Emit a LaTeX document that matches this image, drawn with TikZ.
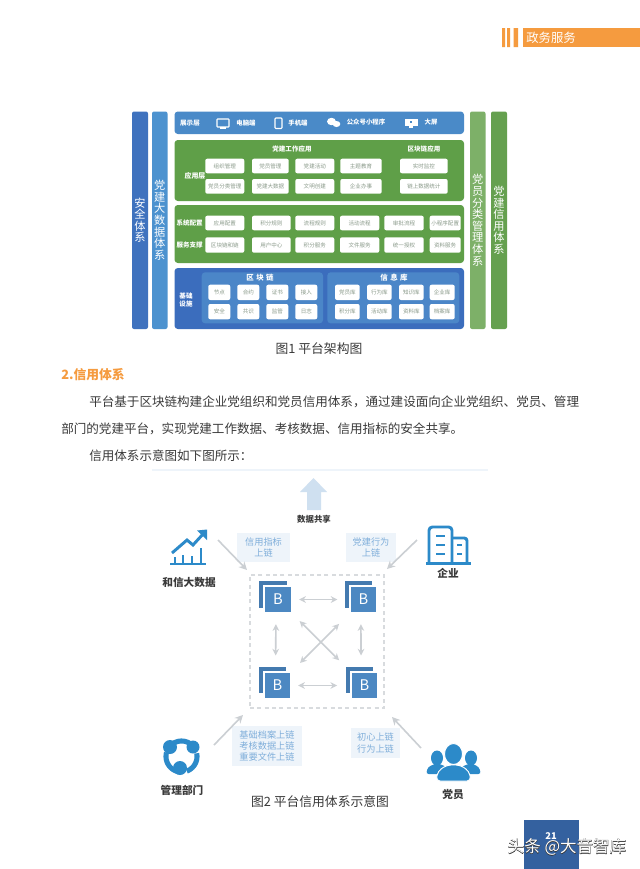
\documentclass[tikz,border=0pt]{standalone}
\usepackage{fontspec}
\setmainfont{Noto Sans CJK SC}
\newfontfamily\halofont[FakeBold=2.5]{Noto Sans CJK SC}
\usetikzlibrary{arrows.meta,calc}
\definecolor{topblue}{HTML}{4A8AC8}
\definecolor{safeblue}{HTML}{3F72BE}
\definecolor{datablue}{HTML}{4C92CF}
\definecolor{appgreen}{HTML}{5F9F48}
\definecolor{basedark}{HTML}{3B6DBD}
\definecolor{baseinner}{HTML}{4B86C8}
\definecolor{lightgreen}{HTML}{7DB068}
\definecolor{darkgreen}{HTML}{65A04F}
\definecolor{boxtext}{HTML}{8A9A8A}
\definecolor{iconblue}{HTML}{2C8AC9}
\definecolor{blockblue}{HTML}{4C88C2}
\definecolor{panelfill}{HTML}{EEF4FA}
\definecolor{paneltext}{HTML}{7FAEDA}
\definecolor{arrowgray}{HTML}{CBCFD3}
\definecolor{dashgray}{HTML}{D8DBDE}
\definecolor{bigarrow}{HTML}{CFE0F0}
\definecolor{headorange}{HTML}{F59B3F}
\definecolor{pageblue}{HTML}{34619F}
\definecolor{bodytext}{HTML}{3A3A3A}
\tikzset{
 bar/.style={rounded corners=1.5pt,inner sep=0pt,text=white,align=center,font=\fontsize{8.4}{8.7}\selectfont},
 band/.style={rounded corners=2.5pt,inner sep=0pt},
 wbox/.style={fill=white,rounded corners=1.5pt,inner sep=0pt,text=boxtext,font=\fontsize{4.15}{5}\selectfont},
 lab/.style={inner sep=0pt,text=white,align=center,font=\fontsize{4.9}{6.4}\selectfont\bfseries},
 iconlab/.style={inner sep=0pt,text=white,font=\fontsize{4.8}{6}\selectfont\bfseries},
 actor/.style={inner sep=0pt,text=bodytext,font=\fontsize{8}{9}\selectfont\bfseries},
 body/.style={inner sep=0pt,anchor=west,text=bodytext,font=\fontsize{9.42}{11}\selectfont},
 caption/.style={inner sep=0pt,text=bodytext,font=\fontsize{9.6}{11}\selectfont},
 panel/.style={fill=panelfill,inner sep=0pt,text=paneltext,align=center,font=\fontsize{6.9}{8.4}\selectfont},
 blockback/.style={fill=blockblue!90!black,inner sep=0pt},
 block/.style={fill=blockblue,draw=white,line width=0.8pt,inner sep=0pt,text=white,font=\fontsize{11}{12}\selectfont},
 link/.style={draw=arrowgray,line width=1.2pt,{Stealth[length=5pt,width=5pt]}-{Stealth[length=5pt,width=5pt]}},
 feed/.style={draw=arrowgray,line width=1.2pt,-{Stealth[length=6pt,width=6pt]}},
 iconline/.style={draw=iconblue,line width=2.2pt},
 ringarc/.style={draw=iconblue,line width=3.8pt},
 whiteline/.style={draw=white,line width=0.8pt}
}
% name, x1,y1,x2,y2, style, text
\newcommand{\bx}[7]{\node[#6,minimum width={(#4-#2)*0.75pt},minimum height={(#5-#3)*0.75pt}] (#1) at ({(#2+#4)/2},{(#3+#5)/2}) {#7};}
\begin{document}
\begin{tikzpicture}[x=0.75pt,y=-0.75pt]
\useasboundingbox (0,0) rectangle (640,869);
\fill[white] (0,0) rectangle (640,869);
% header
\fill[headorange] (502,28) rectangle (505,47) (507,28) rectangle (510,47) (513.5,28) rectangle (518,47);
\bx{headbar}{522.7}{28}{640}{47}{fill=headorange,inner sep=0pt}{}
\node[inner sep=0pt,anchor=west,text=white,font=\fontsize{9.3}{11}\selectfont] (headtxt) at (526,38) {政务服务};
% side bars
\bx{safe}{132}{111.5}{148}{329}{bar,fill=safeblue}{安\\全\\体\\系}
\bx{bigdata}{152}{111.5}{167.5}{329}{bar,fill=datablue}{党\\建\\大\\数\\据\\体\\系}
\bx{member}{470}{111.5}{485.5}{329}{bar,fill=lightgreen}{党\\员\\分\\类\\管\\理\\体\\系}
\bx{credit}{491}{111.5}{507}{329}{bar,fill=darkgreen}{党\\建\\信\\用\\体\\系}
% bands
\bx{show}{174.5}{111.5}{464}{134}{band,fill=topblue}{}
\bx{app}{174.5}{140}{464}{201}{band,fill=appgreen}{}
\bx{sys}{174.5}{205}{464}{263}{band,fill=appgreen}{}
\bx{base}{174.5}{268}{464}{329}{band,fill=basedark}{}
\bx{chainpanel}{201.7}{272.3}{323}{323.3}{band,fill=baseinner}{}
\bx{infopanel}{327.3}{272.3}{459.3}{323.3}{band,fill=baseinner}{}
% top row
\node[lab] (l1) at (190,122.7) {展示层};
\draw[whiteline,rounded corners=0.5pt] (217,119) rectangle (229,127);
\draw[whiteline] (220,128) -- (226,128);
\node[iconlab] (l2) at (246,123) {电脑端};
\draw[whiteline,rounded corners=0.7pt] (275,118) rectangle (282,128.5);
\node[iconlab] (l3) at (298,123) {手机端};
\fill[white] (331.5,121.5) ellipse (4.5 and 3.7);
\fill[white] (336.5,124) ellipse (3.8 and 3);
\node[iconlab] (l4) at (366,122) {公众号小程序};
\fill[white] (404.5,118.5) rectangle (417.5,126);
\fill[topblue] (410,120.5) rectangle (412,123);
\fill[white] (409,126) rectangle (413,128);
\node[iconlab] (l5) at (431,122) {大屏};
% app band
\node[lab,font=\fontsize{5.2}{6.4}\selectfont\bfseries] (l6) at (195,176) {应用层};
\node[lab] (l7) at (292,149) {党建工作应用};
\node[lab] (l8) at (424,149) {区块链应用};
\bx{a1}{205.3}{158.7}{244.3}{173.3}{wbox}{组织管理}
\bx{a2}{252}{158.7}{288.7}{173.3}{wbox}{党员管理}
\bx{a3}{295.3}{158.7}{334.3}{173.3}{wbox}{党建活动}
\bx{a4}{340.3}{158.7}{381.7}{173.3}{wbox}{主题教育}
\bx{a5}{400}{158.7}{447.7}{173.3}{wbox}{实时监控}
\bx{a6}{205.3}{179}{244.3}{193.7}{wbox}{党员分类管理}
\bx{a7}{252}{179}{288.7}{193.7}{wbox}{党建大数据}
\bx{a8}{295.3}{179}{334.3}{193.7}{wbox}{文明创建}
\bx{a9}{340.3}{179}{381.7}{193.7}{wbox}{企业办事}
\bx{a10}{400}{179}{447.7}{193.7}{wbox}{链上数据统计}
% system band
\node[lab] (l9) at (189.7,223) {系统配置};
\node[lab] (l10) at (189.7,245) {服务支撑};
\bx{s1}{205.3}{215.7}{244.3}{230.3}{wbox}{应用配置}
\bx{s2}{252}{215.7}{290.7}{230.3}{wbox}{积分规则}
\bx{s3}{295.3}{215.7}{334.3}{230.3}{wbox}{流程规则}
\bx{s4}{340}{215.7}{379.3}{230.3}{wbox}{活动流程}
\bx{s5}{384.3}{215.7}{423.7}{230.3}{wbox}{审批流程}
\bx{s6}{429.7}{215.7}{460.7}{230.3}{wbox}{小程序配置}
\bx{s7}{205.3}{237.3}{244.3}{252.7}{wbox}{区块链和链}
\bx{s8}{252}{237.3}{290.7}{252.7}{wbox}{用户中心}
\bx{s9}{295.3}{237.3}{334.3}{252.7}{wbox}{积分服务}
\bx{s10}{340}{237.3}{379.3}{252.7}{wbox}{文件服务}
\bx{s11}{384.3}{237.3}{423.7}{252.7}{wbox}{统一授权}
\bx{s12}{429.7}{237.3}{460.7}{252.7}{wbox}{资料服务}
% base band
\node[lab] (l11) at (186,300) {基础\\设施};
\node[lab,font=\fontsize{5.6}{7}\selectfont\bfseries] (l12) at (260,278) {区\,\,块\,\,链};
\node[lab,font=\fontsize{5.6}{7}\selectfont\bfseries] (l13) at (394,278) {信\,\,息\,\,库};
\bx{c1}{208.3}{284.7}{230.3}{300}{wbox}{节点}
\bx{c2}{237.3}{284.7}{259.3}{300}{wbox}{合约}
\bx{c3}{266.3}{284.7}{288.3}{300}{wbox}{证书}
\bx{c4}{295.3}{284.7}{317.3}{300}{wbox}{接入}
\bx{c5}{208.3}{304}{230.3}{319.3}{wbox}{安全}
\bx{c6}{237.3}{304}{259.3}{319.3}{wbox}{共识}
\bx{c7}{266.3}{304}{288.3}{319.3}{wbox}{监管}
\bx{c8}{295.3}{304}{317.3}{319.3}{wbox}{日志}
\bx{d1}{335}{284.7}{359.7}{300}{wbox}{党员库}
\bx{d2}{367}{284.7}{391.7}{300}{wbox}{行为库}
\bx{d3}{399}{284.7}{423.7}{300}{wbox}{知识库}
\bx{d4}{429.7}{284.7}{454.7}{300}{wbox}{企业库}
\bx{d5}{335}{304}{359.7}{319.3}{wbox}{积分库}
\bx{d6}{367}{304}{391.7}{319.3}{wbox}{活动库}
\bx{d7}{399}{304}{423.7}{319.3}{wbox}{资料库}
\bx{d8}{429.7}{304}{454.7}{319.3}{wbox}{档案库}
% captions and body text
\node[caption] (cap1) at (319,349) {图1 平台架构图};
\node[inner sep=0pt,anchor=west,text=headorange,font=\fontsize{9.6}{11}\selectfont\bfseries] (sec) at (61,375) {2.信用体系};
\node[body] (p1) at (89,402) {平台基于区块链构建企业党组织和党员信用体系，通过建设面向企业党组织、党员、管理};
\node[body] (p2) at (61,429) {部门的党建平台，实现党建工作数据、考核数据、信用指标的安全共享。};
\node[body] (p3) at (89,456) {信用体系示意图如下图所示：};
\draw[panelfill,line width=1pt] (152,470) -- (488,470);
% data share arrow
\fill[bigarrow] (313.5,478) -- (327,492) -- (321,492) -- (321,510) -- (307,510) -- (307,492) -- (300,492) -- cycle;
\node[actor,font=\fontsize{6.3}{8}\selectfont\bfseries] (share) at (314,519) {数据共享};
% panels
\bx{pa}{237}{533}{290}{562}{panel}{信用指标\\上链}
\bx{pb}{346}{533}{396}{562}{panel}{党建行为\\上链}
\bx{pc}{232}{726}{302}{766}{panel}{基础档案上链\\考核数据上链\\重要文件上链}
\bx{pd}{351}{728}{400}{758}{panel}{初心上链\\行为上链}
% chain area
\bx{chain}{250}{575}{384}{708}{draw=dashgray,dash pattern=on 3pt off 2.5pt,line width=1pt}{}
\bx{k1}{259}{581}{287}{608}{blockback}{}
\bx{k2}{345}{581}{372}{608}{blockback}{}
\bx{k3}{259}{667}{286}{693}{blockback}{}
\bx{k4}{346}{667}{373}{693}{blockback}{}
\bx{b1}{264}{586}{292}{613}{block}{B}
\bx{b2}{350}{586}{377}{613}{block}{B}
\bx{b3}{264}{672}{291}{699}{block}{B}
\bx{b4}{351}{672}{378}{699}{block}{B}
\draw[link,shorten <=5pt,shorten >=9pt] (b1.east) -- (b2.west);
\draw[link,shorten <=5pt,shorten >=10pt] (b3.east) -- (b4.west);
\draw[link,shorten <=8pt,shorten >=12pt] ([xshift=-1.5pt]b1.south) -- ([xshift=-1.5pt]b3.north);
\draw[link,shorten <=8pt,shorten >=12pt] ([xshift=-2pt]b2.south) -- ([xshift=-2.5pt]b4.north);
\draw[link,shorten <=8pt,shorten >=12pt] (b1) -- (b4);
\draw[link,shorten <=11pt,shorten >=9pt] (b2) -- (b3);
% actor labels
\node[actor] (bigd) at (189,582) {和信大数据};
\node[actor] (ent) at (448,573) {企业};
\node[actor] (mgr) at (182,790) {管理部门};
\node[actor] (mem) at (453,794) {党员};
\coordinate (fa) at (218,540); \coordinate (ta) at (247,570);
\coordinate (fb) at (417,540); \coordinate (tb) at (387,569);
\coordinate (fc) at (214,745); \coordinate (tc) at (243,715);
\coordinate (fd) at (421,748); \coordinate (td) at (392,717);
\draw[feed] (fa) -- (ta);
\draw[feed] (fb) -- (tb);
\draw[feed] (fc) -- (tc);
\draw[feed] (fd) -- (td);
% chart icon
\draw[iconline] (170,564) -- (206,564);
\draw[iconline] (175,564) -- (175,557) (183,564) -- (183,555) (192,564) -- (192,556) (201,564) -- (201,548);
\draw[iconline] (172,553) -- (187,540) -- (193,545) -- (204,533);
\fill[iconblue] (207,529.5) -- (207,540) -- (197,530.5) -- cycle;
% building icon
\draw[iconline,line join=round,rounded corners=2.5pt] (429,563) -- (429,527) -- (452,527) -- (452,563);
\draw[iconline,line join=round,rounded corners=2pt] (452,538) -- (467,538) -- (467,563);
\draw[iconline] (426,563.5) -- (471,563.5);
\draw[iconline] (436,536) -- (445,536) (436,545) -- (445,545) (436,554) -- (445,554) (457,545) -- (462,545) (457,554) -- (462,554);
% management icon
\draw[ringarc] plot[domain=240:325,samples=20] ({181.5+15.5*cos(\x)},{756.5+15.5*sin(\x)});
\draw[ringarc] plot[domain=-12:70,samples=20] ({181.5+15.5*cos(\x)},{756.5+15.5*sin(\x)});
\draw[ringarc] plot[domain=100:195,samples=20] ({181.5+15.5*cos(\x)},{756.5+15.5*sin(\x)});
\fill[iconblue] (170,747) circle (7) (193,747) circle (6.5) (180,768) circle (7);
% people icon
\fill[iconblue] (437,758) ellipse (6 and 7.5) (471,758) ellipse (6 and 7.5);
\fill[iconblue,rounded corners=2pt] (426,774) -- (428,767) -- (437,763) -- (447,767) -- (447,774) -- cycle;
\fill[iconblue,rounded corners=2pt] (481,774) -- (479,767) -- (471,763) -- (461,767) -- (461,774) -- cycle;
\fill[iconblue,draw=white,line width=0.7pt] (453.5,754) ellipse (9 and 10.5);
\fill[iconblue,draw=white,line width=0.7pt,rounded corners=3pt] (436,781) -- (438,771) -- (447,765) -- (460,765) -- (469,771) -- (471,781) -- cycle;
% caption
\node[caption] (cap2) at (320,802) {图2 平台信用体系示意图};
% footer
\bx{pagebox}{524}{820}{579}{869}{fill=pageblue,inner sep=0pt}{}
\node[inner sep=0pt,text=white,font=\fontsize{7}{8}\selectfont\bfseries] (pageno) at (551,836) {21};
\node[inner sep=0pt,text=black!80,font=\halofont\fontsize{12.4}{14}\selectfont] (wmh) at (567,847) {头条 @大音智库};
\node[inner sep=0pt,text=white,font=\fontsize{12.4}{14}\selectfont] (wm) at (567,847) {头条 @大音智库};
\end{tikzpicture}
\end{document}
